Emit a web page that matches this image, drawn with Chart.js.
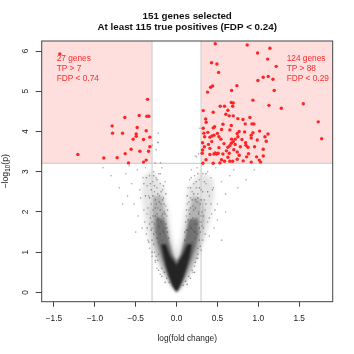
<!DOCTYPE html>
<html>
<head>
<meta charset="utf-8">
<script src="https://cdn.jsdelivr.net/npm/chart.js@4/dist/chart.umd.min.js"></script>
<style>
  html, body { margin: 0; padding: 0; background: #fff; }
  #wrap { width: 354px; height: 354px; }
</style>
</head>
<body>
<div id="wrap"><canvas id="volcano"></canvas></div>
<script>
// --- データ ---
const titleLines = ['151 genes selected', 'At least 115 true positives (FDP < 0.24)'];
const xTitle = 'log(fold change)';
const xTicks = [-1.5, -1, -0.5, 0, 0.5, 1, 1.5];
const yTicks = [0, 1, 2, 3, 4, 5, 6];
const fcCutoff = 0.3;
const pCutoff = 3.21;
const leftLabel = ['27 genes', 'TP > 7', 'FDP < 0.74'];
const rightLabel = ['124 genes', 'TP > 88', 'FDP < 0.29'];

// selected genes, left side (27)
const leftRed = [
  [-1.428, 5.93], [-0.355, 4.80], [-0.633, 4.35], [-0.458, 4.40], [-0.364, 4.38], [-0.339, 4.38],
  [-0.788, 4.14], [-0.482, 4.10], [-0.783, 3.96], [-0.661, 3.96], [-0.372, 4.02], [-0.494, 3.94],
  [-0.494, 3.88], [-0.531, 3.81], [-0.404, 3.80], [-0.327, 3.86], [-0.327, 3.62], [-0.556, 3.56],
  [-0.449, 3.51], [-0.343, 3.51], [-1.208, 3.43], [-0.890, 3.34], [-0.727, 3.35], [-0.629, 3.45],
  [-0.588, 3.22], [-0.404, 3.24], [-0.372, 3.29]
];

// selected genes, right side (124)
const rightRed = [
  [0.473, 6.18], [0.864, 6.15], [0.991, 5.95], [1.142, 6.07], [1.114, 5.80], [1.219, 5.62],
  [0.428, 5.71], [0.493, 5.68], [0.514, 5.47], [1.060, 5.35], [1.121, 5.37], [1.179, 5.30],
  [0.995, 5.27], [0.738, 5.14], [0.673, 5.02], [0.441, 5.13], [0.416, 5.10], [0.379, 4.98],
  [1.195, 5.02], [0.934, 4.78], [1.130, 4.65], [1.281, 4.58], [1.550, 4.69], [1.733, 4.24],
  [1.775, 3.82], [1.118, 3.94], [1.081, 3.87], [1.097, 3.76], [1.060, 3.39], [0.669, 4.72],
  [0.693, 4.71], [0.534, 4.63], [0.587, 4.63], [0.686, 4.63], [0.326, 4.52], [0.448, 4.48],
  [0.628, 4.53], [0.603, 4.43], [0.644, 4.39], [0.693, 4.39], [0.897, 4.35], [0.750, 4.32],
  [0.812, 4.30], [0.922, 4.19], [0.946, 4.19], [0.840, 4.19], [0.567, 4.18], [0.669, 4.15],
  [1.016, 4.01], [0.934, 3.97], [0.832, 3.99], [0.742, 3.95], [0.766, 4.00], [0.383, 3.98],
  [0.465, 4.12], [0.448, 4.09], [0.334, 3.96], [0.432, 3.89], [0.318, 3.72], [0.408, 3.86],
  [0.518, 3.87], [0.750, 3.87], [0.717, 3.81], [0.693, 3.75], [0.669, 3.71], [0.652, 3.65],
  [0.628, 3.61], [0.913, 3.84], [0.987, 3.79], [0.845, 3.72], [0.408, 3.58], [0.518, 3.60],
  [0.318, 3.54], [0.473, 3.47], [0.490, 3.44], [0.457, 3.44], [0.567, 3.44], [0.742, 3.49],
  [0.766, 3.41], [0.628, 3.36], [0.587, 3.26], [0.652, 3.26], [0.686, 3.26], [0.815, 3.27],
  [0.742, 3.31], [0.857, 3.37], [0.913, 3.24], [1.011, 3.29], [1.028, 3.24], [0.448, 3.21],
  [0.530, 3.22], [0.322, 3.21], [1.060, 3.56], [0.954, 3.62], [0.873, 3.61], [0.355, 4.31],
  [0.362, 4.23], [0.326, 4.08], [0.343, 3.87], [0.313, 3.46], [0.457, 3.91], [0.542, 3.81],
  [0.652, 4.04], [0.673, 3.81], [0.913, 3.91], [0.848, 3.66], [0.644, 3.46], [0.509, 3.46],
  [0.408, 3.43], [0.979, 3.37], [0.717, 3.68], [0.360, 3.30], [0.390, 3.68], [0.430, 3.75],
  [0.500, 3.95], [0.550, 4.05], [0.580, 3.70], [0.610, 3.52], [0.700, 3.55], [0.780, 3.62],
  [0.800, 3.80], [0.880, 3.45], [0.550, 3.30], [0.340, 3.62]
];

// non-selected genes, sparse outer points
const greyPoints = [
  [-0.62, 2.95], [-0.55, 2.7], [-0.48, 3.05], [-0.45, 2.55], [-0.41, 2.85], [-0.38, 3.1], [-0.36, 2.65],
  [-0.34, 2.4], [-0.33, 2.9], [-0.31, 2.2], [-0.29, 2.75], [-0.28, 3.0], [-0.27, 2.5], [-0.26, 2.3],
  [-0.25, 2.85], [-0.24, 2.6], [-0.23, 2.1], [-0.22, 2.95], [-0.21, 2.4], [-0.2, 2.7], [-0.19, 2.2],
  [-0.18, 3.1], [-0.17, 2.55], [-0.16, 2.35], [-0.15, 2.0], [-0.14, 2.75], [-0.13, 2.15], [-0.12, 1.9],
  [-0.52, 2.2], [-0.47, 1.9], [-0.44, 2.35], [-0.42, 1.6], [-0.4, 2.05], [-0.39, 1.75], [-0.37, 1.45],
  [-0.36, 1.95], [-0.35, 1.3], [-0.6, 2.4], [-0.7, 2.6], [-0.5, 1.5], [-0.33, 1.1], [-0.3, 0.9],
  [-0.28, 1.2], [-0.26, 0.75], [-0.24, 0.6], [-0.22, 0.95], [-0.2, 0.45], [-0.3, 1.6], [-0.32, 1.85],
  [-0.29, 2.05], [-0.27, 1.7], [-0.25, 1.5], [-0.23, 1.8], [-0.21, 1.6], [-0.19, 1.75], [-0.17, 1.55],
  [-0.16, 1.85], [-0.14, 1.6], [-0.18, 1.3], [-0.22, 1.25], [-0.27, 1.0], [-0.8, 2.9], [-0.9, 3.1],
  [-0.58, 3.15], [-0.66, 2.2],
  [0.12, 1.9], [0.13, 2.2], [0.14, 2.6], [0.15, 2.05], [0.16, 2.8], [0.17, 2.35], [0.18, 3.05],
  [0.19, 2.5], [0.2, 2.15], [0.21, 2.7], [0.22, 2.9], [0.23, 2.3], [0.24, 2.6], [0.25, 3.1],
  [0.26, 2.45], [0.27, 2.0], [0.28, 2.8], [0.3, 2.55], [0.32, 2.95], [0.34, 2.3], [0.36, 2.7],
  [0.38, 3.0], [0.4, 2.4], [0.42, 2.85], [0.45, 2.6], [0.48, 3.1], [0.5, 2.2], [0.55, 2.75],
  [0.6, 2.45], [0.65, 2.9], [0.7, 3.05], [0.75, 2.6], [0.3, 1.9], [0.33, 1.6], [0.35, 2.05],
  [0.38, 1.75], [0.4, 1.4], [0.43, 1.95], [0.46, 1.6], [0.5, 1.8], [0.55, 1.3], [0.6, 2.0],
  [0.28, 1.3], [0.26, 1.1], [0.24, 0.85], [0.22, 0.65], [0.2, 0.5], [0.3, 1.05], [0.25, 1.45],
  [0.22, 1.7], [0.2, 1.55], [0.18, 1.8], [0.16, 1.65], [0.27, 1.75], [0.23, 1.35], [0.19, 1.25],
  [0.32, 1.3], [0.85, 2.8], [0.95, 3.05],
  [-0.225, 3.72], [-0.225, 3.96], [-0.298, 3.66], [-0.23, 3.73], [-0.196, 3.22], [-0.262, 3.22],
  [0.228, 3.39], [0.285, 4.08], [0.245, 3.37], [-0.25, 3.55], [0.27, 3.45]
];

// non-selected genes, inside the arms
const greyInner = [
  [-0.35, 2.1], [-0.33, 2.35], [-0.31, 2.55], [-0.3, 1.75], [-0.29, 2.4], [-0.28, 1.45], [-0.27, 2.65],
  [-0.26, 1.9], [-0.25, 2.2], [-0.24, 1.35], [-0.23, 2.45], [-0.22, 1.65], [-0.21, 2.25], [-0.2, 1.45],
  [-0.19, 2.5], [-0.18, 1.9], [-0.17, 2.3], [-0.16, 1.5], [-0.15, 2.2], [-0.14, 1.95], [-0.13, 2.45],
  [-0.12, 1.6], [-0.11, 2.05], [-0.1, 1.35], [-0.36, 1.6], [-0.34, 1.25], [-0.38, 2.4], [-0.4, 2.7],
  [-0.37, 2.85], [-0.32, 2.7], [-0.28, 2.9], [-0.24, 2.8], [-0.2, 2.95], [-0.16, 2.65], [-0.3, 1.0],
  [-0.26, 0.8], [-0.22, 0.55], [-0.18, 0.4], [-0.14, 0.25], [-0.3, 1.3], [-0.31, 1.55], [-0.33, 1.7],
  [-0.29, 1.9], [-0.26, 2.1], [-0.24, 1.95], [-0.2, 2.05], [-0.17, 1.95], [-0.13, 1.7], [-0.11, 1.5],
  [-0.25, 0.9], [-0.23, 0.8], [-0.18, 0.6], [-0.15, 0.5], [-0.12, 0.35], [-0.09, 0.25],
  [0.1, 1.5], [0.11, 1.75], [0.12, 2.05], [0.13, 2.4], [0.14, 1.55], [0.15, 2.25], [0.16, 1.95],
  [0.17, 2.6], [0.18, 1.6], [0.19, 2.3], [0.2, 1.85], [0.21, 2.45], [0.22, 1.5], [0.23, 2.1],
  [0.24, 2.75], [0.25, 1.7], [0.26, 2.35], [0.27, 1.95], [0.28, 2.6], [0.29, 1.5], [0.3, 2.3],
  [0.31, 1.65], [0.32, 2.5], [0.33, 1.9], [0.34, 2.75], [0.35, 1.45], [0.36, 2.2], [0.38, 2.5],
  [0.4, 1.85], [0.42, 2.2], [0.44, 2.55], [0.47, 2.05], [0.18, 2.85], [0.26, 2.95], [0.36, 2.95],
  [0.29, 1.15], [0.26, 0.85], [0.22, 0.5], [0.17, 0.35], [0.13, 0.2], [0.28, 1.6], [0.3, 1.75],
  [0.31, 2.0], [0.29, 2.2], [0.25, 2.25], [0.21, 2.05], [0.17, 2.1], [0.14, 1.8], [0.12, 1.55],
  [0.1, 1.3], [0.26, 0.95], [0.23, 0.75], [0.19, 0.55], [0.15, 0.4], [0.11, 0.28], [0.08, 0.18]
];

// dense cloud outlines, outer to inner
const cloudOuter = [
  [0, 0], [-0.1, 0.25], [-0.2, 0.6], [-0.3, 1.05], [-0.37, 1.5], [-0.4, 2.0], [-0.42, 2.5],
  [-0.4, 2.9], [-0.3, 3.05], [-0.15, 2.6], [-0.1, 2.0], [-0.05, 1.3], [0, 1.0], [0.05, 1.3],
  [0.1, 2.0], [0.14, 2.6], [0.3, 3.0], [0.45, 2.8], [0.46, 2.4], [0.42, 1.9], [0.36, 1.4],
  [0.28, 0.95], [0.18, 0.5], [0.08, 0.15]
];
const cloudMid = [
  [0, 0], [-0.08, 0.2], [-0.16, 0.5], [-0.23, 0.85], [-0.28, 1.2], [-0.31, 1.6], [-0.32, 2.0],
  [-0.29, 2.4], [-0.18, 2.4], [-0.12, 1.8], [-0.08, 1.3], [-0.03, 0.9], [0, 0.8], [0.04, 0.9],
  [0.09, 1.3], [0.13, 1.8], [0.2, 2.4], [0.32, 2.3], [0.34, 1.8], [0.31, 1.35], [0.26, 0.95],
  [0.19, 0.6], [0.11, 0.28], [0.04, 0.08]
];
const cloudInner = [
  [0, 0.01], [-0.06, 0.2], [-0.12, 0.5], [-0.18, 0.85], [-0.23, 1.2], [-0.26, 1.6], [-0.25, 1.9],
  [-0.15, 1.8], [-0.1, 1.3], [-0.05, 0.95], [0, 0.78], [0.05, 0.95], [0.1, 1.3], [0.15, 1.8],
  [0.26, 1.85], [0.27, 1.45], [0.23, 1.1], [0.17, 0.75], [0.1, 0.4], [0.04, 0.12]
];
const cloudCore = [
  [0, 0.02], [-0.045, 0.15], [-0.09, 0.38], [-0.13, 0.65], [-0.16, 0.9], [-0.19, 1.2], [-0.13, 1.2],
  [-0.08, 0.92], [0, 0.68], [0.07, 0.92], [0.13, 1.2], [0.19, 1.2], [0.16, 0.88], [0.12, 0.6],
  [0.08, 0.35], [0.035, 0.14]
];

const FONT = '"Liberation Sans", Arial, sans-serif';
const toXY = arr => arr.map(([x, y]) => ({ x, y }));
const minus = v => (v < 0 ? '\u2212' : '') + Math.abs(v).toFixed(1);

function fillPoly(ctx, xs, ys, pts, color, blur) {
  ctx.save();
  ctx.filter = 'blur(' + blur + 'px)';
  ctx.beginPath();
  pts.forEach(([x, y], i) => {
    const px = xs.getPixelForValue(x), py = ys.getPixelForValue(y);
    if (i === 0) ctx.moveTo(px, py); else ctx.lineTo(px, py);
  });
  ctx.closePath();
  ctx.fillStyle = color;
  ctx.fill();
  ctx.restore();
}

const decor = {
  id: 'decor',
  beforeDatasetsDraw(chart) {
    const { ctx, chartArea: a, scales: { x, y } } = chart;
    const xl = x.getPixelForValue(-fcCutoff), xr = x.getPixelForValue(fcCutoff);
    const yc = y.getPixelForValue(pCutoff);
    ctx.save();
    // 選択領域
    ctx.fillStyle = '#ffdede';
    ctx.fillRect(a.left, a.top, xl - a.left, yc - a.top);
    ctx.fillRect(xr, a.top, a.right - xr, yc - a.top);
    // cloud
    fillPoly(ctx, x, y, cloudOuter, 'rgba(90,90,90,0.16)', 2);
    fillPoly(ctx, x, y, cloudMid, 'rgba(70,70,70,0.32)', 1.5);
    fillPoly(ctx, x, y, cloudInner, 'rgba(50,50,50,0.5)', 1.2);
    fillPoly(ctx, x, y, cloudCore, 'rgba(25,25,25,0.88)', 0.8);
    // cutoff lines
    ctx.strokeStyle = '#d3d3d3';
    ctx.lineWidth = 1.3;
    ctx.beginPath();
    ctx.moveTo(xl, a.top); ctx.lineTo(xl, a.bottom);
    ctx.moveTo(xr, a.top); ctx.lineTo(xr, a.bottom);
    ctx.moveTo(a.left, yc); ctx.lineTo(a.right, yc);
    ctx.stroke();
    ctx.restore();
  },
  afterDraw(chart) {
    const { ctx, chartArea: a, scales: { x, y } } = chart;
    ctx.save();
    ctx.strokeStyle = '#444';
    ctx.lineWidth = 1;
    ctx.strokeRect(a.left, a.top, a.right - a.left, a.bottom - a.top);

    ctx.fillStyle = '#222';
    ctx.font = '8.3px ' + FONT;
    ctx.textAlign = 'center';
    ctx.textBaseline = 'alphabetic';
    xTicks.forEach(v => ctx.fillText(minus(v), x.getPixelForValue(v), 320.5));
    ctx.fillText(xTitle, (a.left + a.right) / 2, 341);

    yTicks.forEach(v => {
      ctx.save();
      ctx.translate(28.3, y.getPixelForValue(v));
      ctx.rotate(-Math.PI / 2);
      ctx.fillText(String(v), 0, 0);
      ctx.restore();
    });

    // y title: −log10(p)
    ctx.save();
    ctx.translate(7.5, (a.top + a.bottom) / 2);
    ctx.rotate(-Math.PI / 2);
    ctx.textAlign = 'left';
    const big = '8.8px ' + FONT, small = '6.3px ' + FONT;
    ctx.font = big;
    const w1 = ctx.measureText('\u2212log').width;
    const w3 = ctx.measureText('(p)').width;
    ctx.font = small;
    const w2 = ctx.measureText('10').width;
    let cx = -(w1 + w2 + w3) / 2;
    ctx.font = big; ctx.fillText('\u2212log', cx, 0); cx += w1;
    ctx.font = small; ctx.fillText('10', cx, 2); cx += w2;
    ctx.font = big; ctx.fillText('(p)', cx, 0);
    ctx.restore();

    // title
    ctx.fillStyle = '#111';
    ctx.font = 'bold 9.8px ' + FONT;
    const tc = (a.left + a.right) / 2;
    ctx.fillText(titleLines[0], tc, 18.5);
    ctx.fillText(titleLines[1], tc, 30);

    // region labels
    ctx.fillStyle = '#ff2a2a';
    ctx.font = '8.3px ' + FONT;
    ctx.textAlign = 'left';
    leftLabel.forEach((t, i) => ctx.fillText(t, 56.7, 61 + i * 10));
    rightLabel.forEach((t, i) => ctx.fillText(t, 286.7, 61 + i * 10));
    ctx.restore();
  }
};

new Chart(document.getElementById('volcano'), {
  type: 'scatter',
  data: {
    datasets: [
      { data: toXY(leftRed), backgroundColor: '#ff2424', borderWidth: 0, pointRadius: 1.7, order: 0 },
      { data: toXY(rightRed), backgroundColor: '#ff2424', borderWidth: 0, pointRadius: 1.7, order: 0 },
      { data: toXY(greyInner), backgroundColor: 'rgba(50,50,50,0.5)', borderWidth: 0, pointRadius: 0.8, order: 1 },
      { data: toXY(greyPoints), backgroundColor: 'rgba(70,70,70,0.45)', borderWidth: 0, pointRadius: 0.8, order: 2 }
    ]
  },
  options: {
    responsive: true,
    maintainAspectRatio: false,
    animation: false,
    events: [],
    layout: { padding: { top: 41, right: 21.3, left: 0, bottom: 0 } },
    plugins: { legend: { display: false }, tooltip: { enabled: false }, title: { display: false } },
    scales: {
      x: {
        type: 'linear', min: -1.65, max: 1.91,
        afterBuildTicks: s => { s.ticks = xTicks.map(v => ({ value: v })); },
        afterFit: s => { s.height = 52.3; },
        ticks: { display: false },
        grid: { drawOnChartArea: false, drawTicks: true, tickLength: 5, color: '#444' },
        border: { display: false }
      },
      y: {
        type: 'linear', min: -0.23, max: 6.25,
        afterBuildTicks: s => { s.ticks = yTicks.map(v => ({ value: v })); },
        afterFit: s => { s.width = 41.7; },
        ticks: { display: false },
        grid: { drawOnChartArea: false, drawTicks: true, tickLength: 6, color: '#444' },
        border: { display: false }
      }
    }
  },
  plugins: [decor]
});
</script>
</body>
</html>
